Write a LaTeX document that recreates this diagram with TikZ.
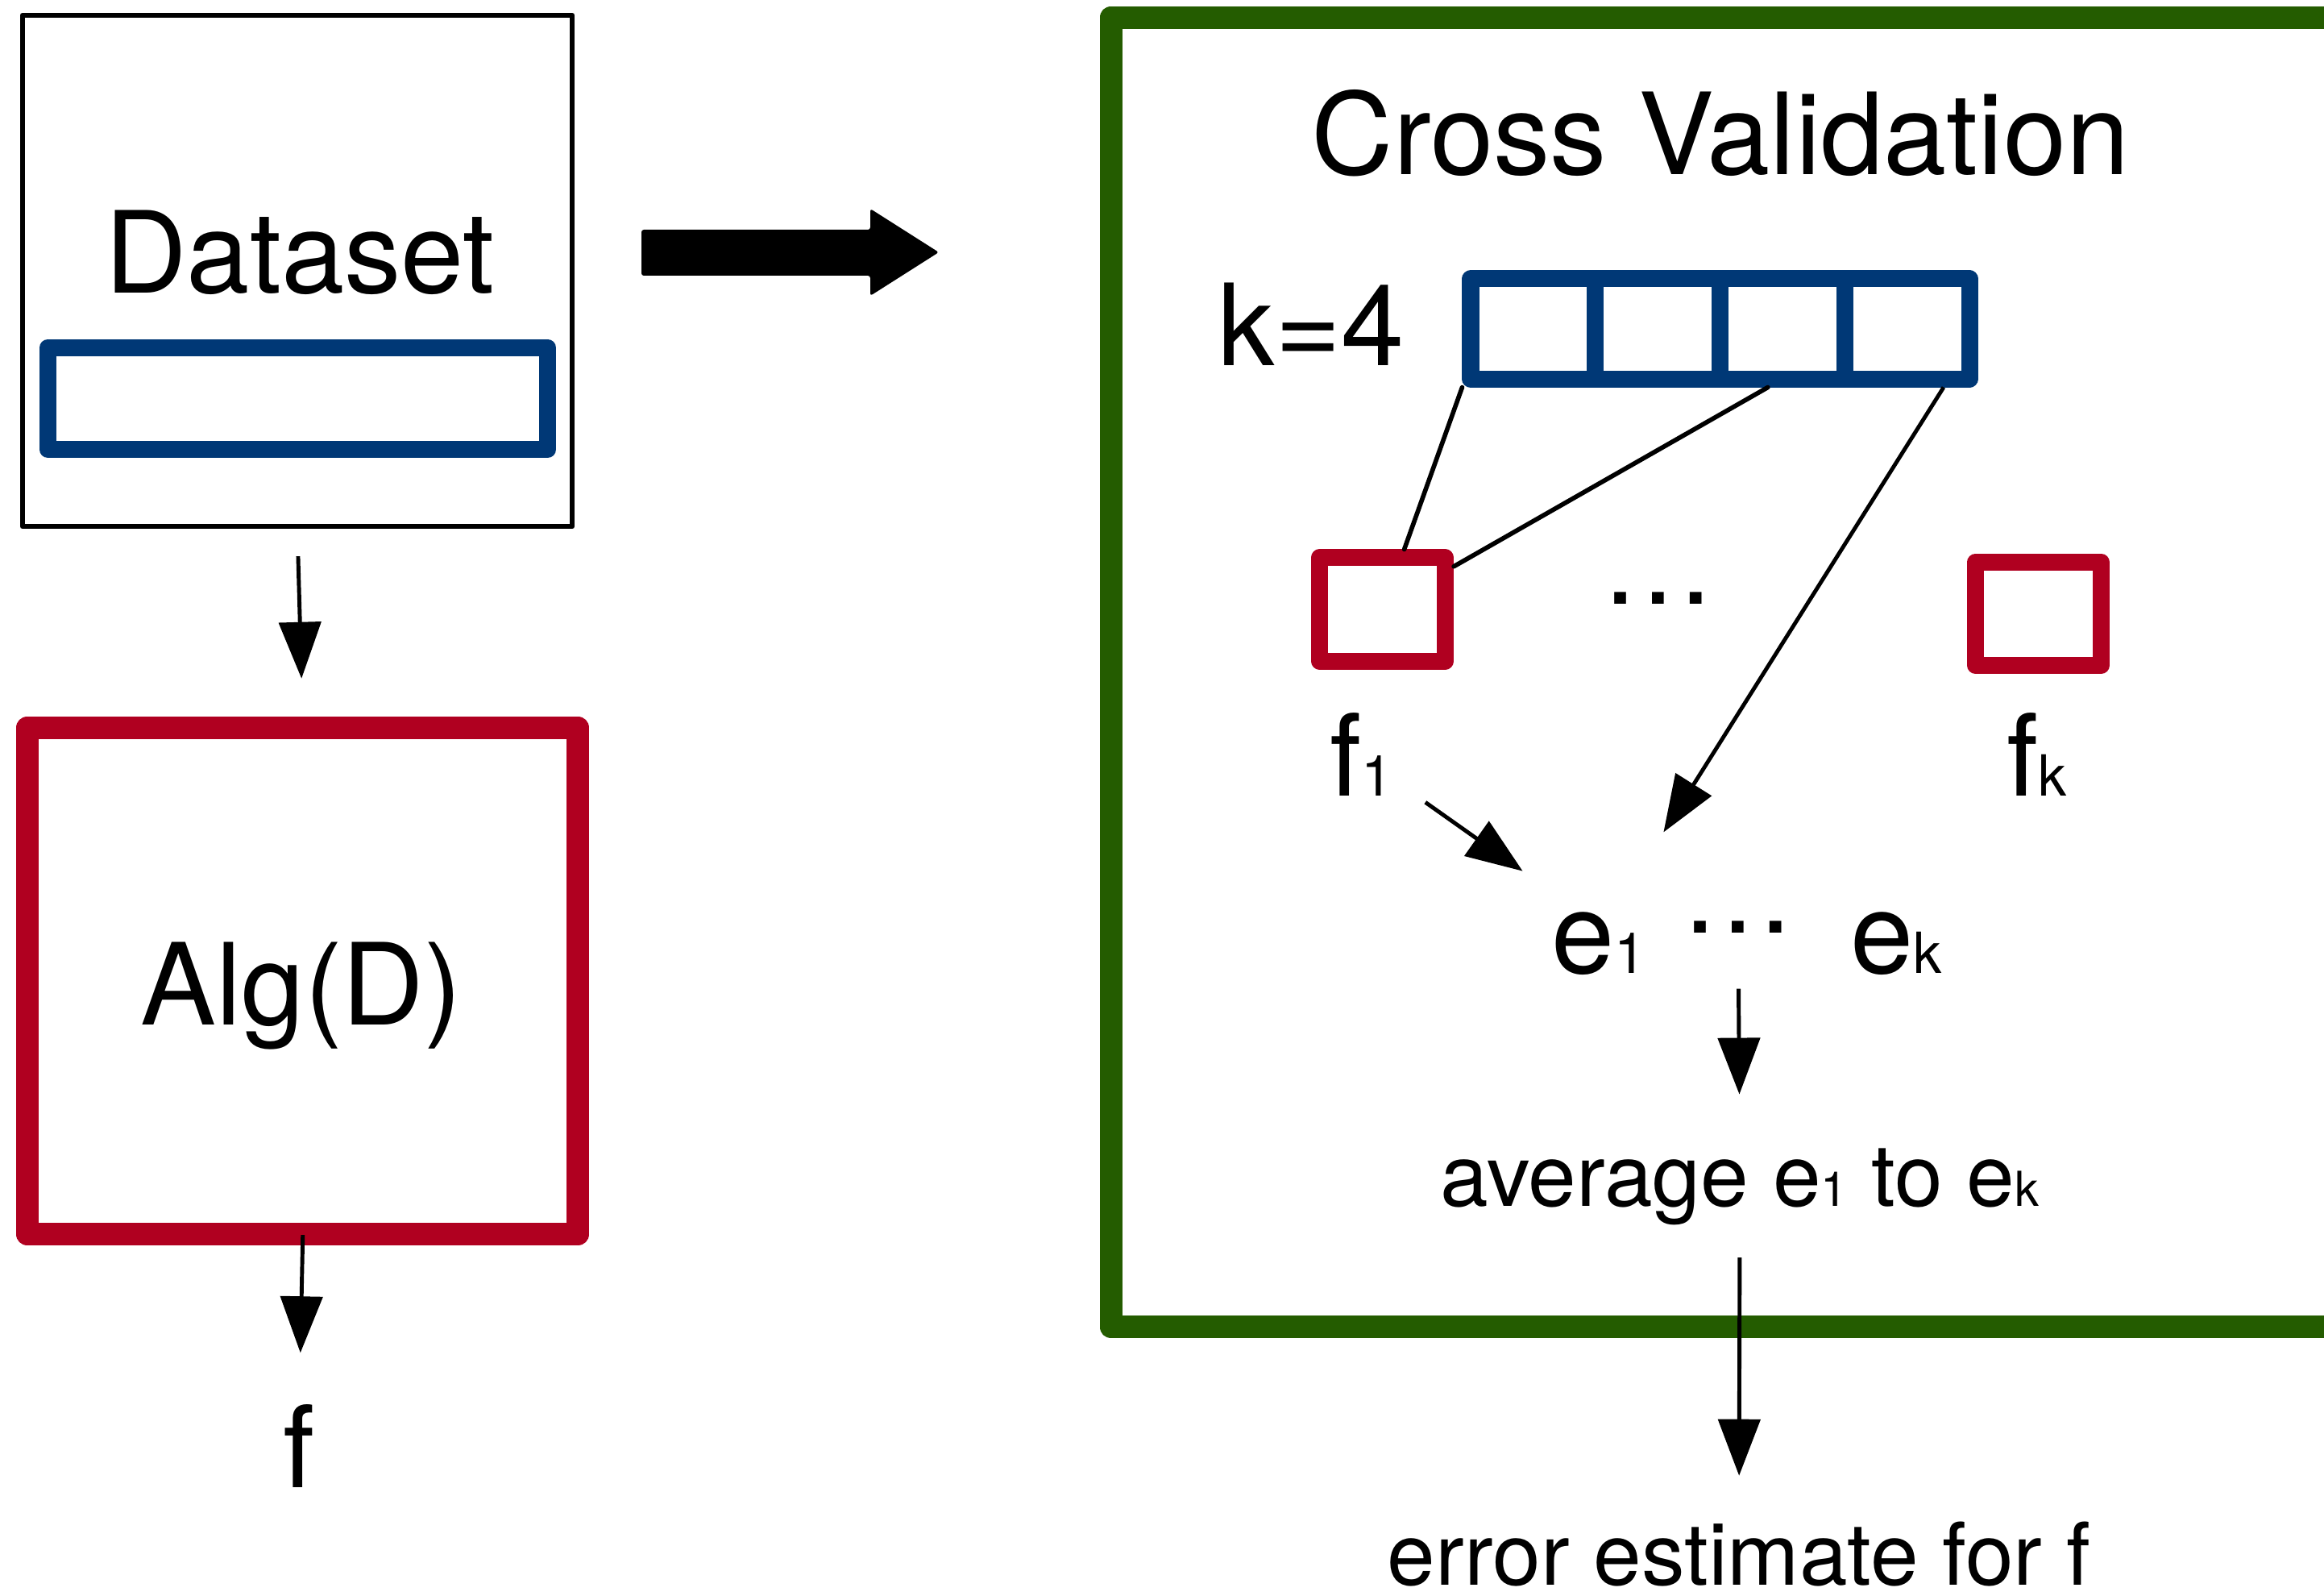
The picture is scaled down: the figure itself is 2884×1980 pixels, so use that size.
\documentclass[tikz,border=0pt]{standalone}
\usepackage{fontspec}
\setmainfont{TeX Gyre Heros}
\usetikzlibrary{arrows.meta}
\definecolor{dsblue}{RGB}{0,56,118}
\definecolor{algred}{RGB}{176,0,32}
\definecolor{cvgreen}{RGB}{36,92,0}
\newcommand\bigtext{\fontsize{40pt}{48pt}\selectfont}
\newcommand\midtext{\fontsize{30.5pt}{36pt}\selectfont}
\newcommand\lo[1]{{\fontsize{20pt}{24pt}\selectfont #1}}
\newcommand\smlo[1]{{\fontsize{17pt}{20pt}\selectfont #1}}
\begin{document}
\begin{tikzpicture}[x=0.01cm, y=-0.01cm,
    box/.style={draw, rectangle, inner sep=0pt, line join=round},
    fold/.style={box, draw=dsblue, line width=0.21cm, minimum width=1.5475cm, minimum height=1.24cm},
    model/.style={box, draw=algred, line width=0.21cm, minimum width=1.56cm, minimum height=1.28cm},
    lbl/.style={inner sep=0pt, font=\bigtext},
    small/.style={inner sep=0pt, font=\midtext},
    arr/.style={line width=1.4pt, -{Triangle[length=0.7cm, width=0.52cm]}},
    link/.style={line width=1.6pt, line cap=round}]
  \useasboundingbox (0,0) rectangle (2884,1980);

  % left column
  \node[box, line width=0.06cm, minimum width=6.82cm, minimum height=6.34cm] (data) at (369,336) {};
  \node[box, draw=dsblue, line width=0.21cm, minimum width=6.2cm, minimum height=1.26cm] (bar) at (369.5,494.5) {};
  \node[box, draw=algred, line width=0.28cm, minimum width=6.83cm, minimum height=6.28cm] (alg) at (375.5,1217) {};
  \node[lbl, anchor=base] (dtxt) at (372,364) {Dataset};
  \node[lbl, anchor=base] (atxt) at (374,1272) {Alg(D)};
  \node[lbl, anchor=base] (f) at (371.5,1845) {f};

  \fill[rounded corners=0.03cm] (796,285) -- (1080,285) -- (1080,259) -- (1165,313)
    -- (1080,367) -- (1080,342) -- (796,342) -- cycle;

  % cross validation frame
  \node[box, draw=cvgreen, line width=0.28cm, minimum width=15.81cm, minimum height=16.24cm] (cv) at (2169.5,834) {};
  \node[lbl, anchor=base] (cvtxt) at (2135,217) {Cross Validation};
  \node[lbl, anchor=base] (k) at (1627,454) {k=4};

  \node[fold] (c1) at (1902.4,408) {};
  \node[fold] (c2) at (2057.1,408) {};
  \node[fold] (c3) at (2211.9,408) {};
  \node[fold] (c4) at (2366.6,408) {};

  \node[model] (b1) at (1715.5,756) {};
  \node[model] (bk) at (2529.5,761.5) {};
  \node[lbl, anchor=base] (dots) at (2058,750) {…};

  \node[lbl, anchor=base west] (f1) at (1650,988) {f\lo{1}};
  \node[lbl, anchor=base west] (fk) at (2490,988) {f\lo{k}};

  \node[lbl, anchor=base west] (e1) at (1925,1208) {e\lo{1}};
  \node[lbl, anchor=base] (edots) at (2157,1158) {…};
  \node[lbl, anchor=base west] (ek) at (2296,1208) {e\lo{k}};

  \node[small, anchor=base] (avg) at (2159,1497) {average e\smlo{1} to e\smlo{k}};
  \node[small, anchor=base] (err) at (2158,1966) {error estimate for f};

  \draw[arr, shorten <=0.34cm, shorten >=0.47cm] (data.south) -- (alg.north);
  \draw[arr, shorten <=-0.13cm, shorten >=0.63cm] (alg.south) -- (f.north);

  \draw[link] (c1.south west) -- (b1.70);
  \draw[link] (c3.-104) -- (b1.31);
  \draw[arr, shorten >=1.17cm] (c4.-58) -- (e1.66);
  \draw[arr, shorten <=0.48cm, shorten >=0.88cm] (f1.-38) -- (e1.120);
  \draw[arr, shorten <=0.68cm, shorten >=0.67cm] (edots.south) -- (avg.north);
  \draw[arr, shorten <=0.39cm, shorten >=0.56cm] (avg.south) -- (err.north);
\end{tikzpicture}
\end{document}
